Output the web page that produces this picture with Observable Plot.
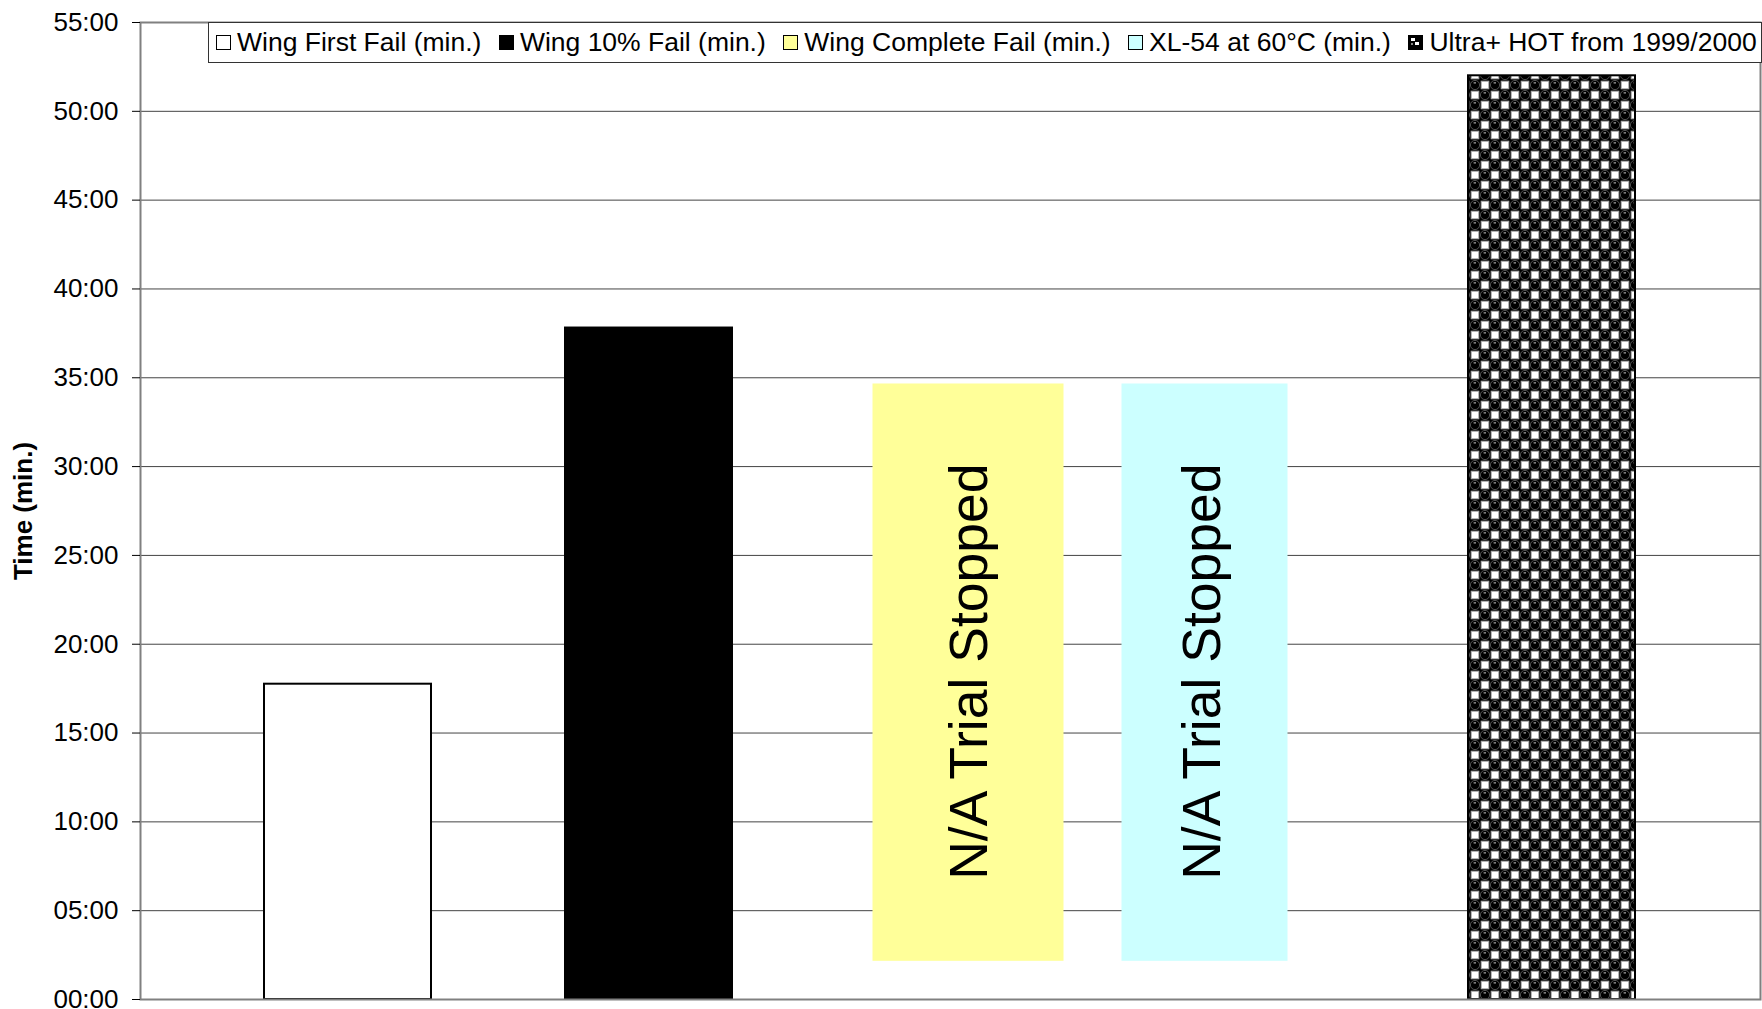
<!DOCTYPE html>
<html>
<head>
<meta charset="utf-8">
<script src="https://cdn.jsdelivr.net/npm/d3@7"></script>
<script src="https://cdn.jsdelivr.net/npm/@observablehq/plot@0.6"></script>
<style>
  html, body { margin: 0; padding: 0; background: #fff; overflow: hidden; }
  #wrap { position: relative; width: 1762px; height: 1009px; font-family: "Liberation Sans", Arial, sans-serif; }
  #legend {
    position: absolute; left: 208px; top: 22px; width: 1554px; height: 41px; box-sizing: border-box;
    border: 1px solid #333; background: #fff; display: flex; align-items: center; padding-left: 7px;
    font-size: 26.5px; color: #000; white-space: nowrap;
  }
  .item { display: flex; align-items: center; margin-right: 17.5px; }
  .sw { width: 15px; height: 15px; box-sizing: border-box; border: 1.5px solid #000; margin-right: 6px; }
</style>
</head>
<body>
<div id="wrap"><div id="chart"></div><div id="legend"></div></div>
<script>
// ---- data ----
const series = ["Wing First Fail (min.)", "Wing 10% Fail (min.)", "Wing Complete Fail (min.)", "XL-54 at 60°C (min.)", "Ultra+ HOT from 1999/2000"];
const minutes = [17.75, 37.8, null, null, 52.0];
const fills = ["#FFFFFF", "#000000", "#FFFF99", "#CCFFFF", "url(#ultraPattern)"];
const yTickValues = [0, 5, 10, 15, 20, 25, 30, 35, 40, 45, 50, 55];
const yTickLabels = ["00:00", "05:00", "10:00", "15:00", "20:00", "25:00", "30:00", "35:00", "40:00", "45:00", "50:00", "55:00"];
const yTitle = "Time (min.)";
const naSeries = ["Wing Complete Fail (min.)", "XL-54 at 60°C (min.)"];
const naFrom = [2.15, 2.15];
const naTo = [34.65, 34.65];
const naLabel = "N/A Trial Stopped";

const bars = series.map((s, i) => ({series: s, value: minutes[i]})).filter(d => d.value != null);
const naRows = naSeries.map((s, i) => ({series: s, y1: naFrom[i], y2: naTo[i], label: naLabel}));

const font = '"Liberation Sans", Arial, sans-serif';

const chart = Plot.plot({
  width: 1762,
  height: 1009,
  marginLeft: 140,
  marginRight: 2,
  marginTop: 22,
  marginBottom: 10,
  style: {background: "#fff", fontFamily: font, color: "#000"},
  x: {domain: series, axis: null, paddingInner: 0.445, paddingOuter: 0.4135},
  y: {domain: [0, 55], axis: null},
  color: {domain: series, range: fills},
  marks: [
    Plot.gridY(yTickValues.slice(1, -1), {stroke: "#444", strokeOpacity: 1, strokeWidth: 1}),
    Plot.barY(bars, {x: "series", y: "value", fill: "series", stroke: "#000", strokeWidth: 2}),
    Plot.barY([naRows[0]], {x: "series", y1: "y1", y2: "y2", fill: "series", dx: 18.5, insetLeft: -12, insetRight: -12}),
    Plot.barY([naRows[1]], {x: "series", y1: "y1", y2: "y2", fill: "series", dx: -46, insetLeft: 0.5, insetRight: 0.5}),
    Plot.text([naRows[0]], {x: "series", y: d => (d.y1 + d.y2) / 2, text: "label", rotate: -90, fontSize: 53.5, fill: "#000", dx: 19.5, dy: -1}),
    Plot.text([naRows[1]], {x: "series", y: d => (d.y1 + d.y2) / 2, text: "label", rotate: -90, fontSize: 53.5, fill: "#000", dx: -48, dy: -1}),
    Plot.frame({stroke: "#808080", strokeWidth: 2}),
    Plot.axisY({ticks: yTickValues, tickFormat: d => yTickLabels[yTickValues.indexOf(d)], tickSize: 8, tickPadding: 14, fontSize: 26, stroke: "#000", fill: "#000", label: null}),
    Plot.text([yTitle], {frameAnchor: "left", textAnchor: "middle", text: d => d, dx: -117, rotate: -90, fontSize: 26, fontWeight: "bold", fill: "#000"})
  ]
});

// pattern for the Ultra+ series
const ns = "http://www.w3.org/2000/svg";
function makePattern(id, size) {
  const p = document.createElementNS(ns, "pattern");
  p.setAttribute("id", id);
  p.setAttribute("patternUnits", "userSpaceOnUse");
  p.setAttribute("width", size);
  p.setAttribute("height", size);
  const k = size / 20;
  p.innerHTML = `
    <rect width="${20*k}" height="${20*k}" fill="#000"/>
    <rect x="${1.2*k}" y="${1.2*k}" width="${7.6*k}" height="${7.6*k}" fill="#fff" stroke="#aaa" stroke-width="${k}"/>
    <rect x="${11.2*k}" y="${11.2*k}" width="${7.6*k}" height="${7.6*k}" fill="#fff" stroke="#aaa" stroke-width="${k}"/>
    <circle cx="${15*k}" cy="${5*k}" r="${4.6*k}" fill="#000" stroke="#666" stroke-width="${0.8*k}"/>
    <circle cx="${5*k}" cy="${15*k}" r="${4.6*k}" fill="#000" stroke="#666" stroke-width="${0.8*k}"/>
    <rect x="${13.6*k}" y="${2.4*k}" width="${2.4*k}" height="${1*k}" fill="#ccc"/>
    <rect x="${3.6*k}" y="${12.4*k}" width="${2.4*k}" height="${1*k}" fill="#ccc"/>`;
  return p;
}
const defs = document.createElementNS(ns, "defs");
defs.appendChild(makePattern("ultraPattern", 20));
chart.insertBefore(defs, chart.firstChild);
document.getElementById("chart").appendChild(chart);

// legend
const legend = document.getElementById("legend");
series.forEach((s, i) => {
  const item = document.createElement("div");
  item.className = "item";
  const sw = document.createElement("div");
  sw.className = "sw";
  if (i === 4) {
    sw.style.background = "#000";
    sw.innerHTML = '<svg width="12" height="12" style="display:block"><rect x="2" y="2" width="4" height="3" fill="#fff"/><rect x="6" y="6" width="4" height="3" fill="#fff"/><rect x="2" y="7" width="2" height="2" fill="#888"/></svg>';
  } else {
    sw.style.background = fills[i];
  }
  const t = document.createElement("span");
  t.textContent = s;
  item.appendChild(sw);
  item.appendChild(t);
  legend.appendChild(item);
});
</script>
</body>
</html>
